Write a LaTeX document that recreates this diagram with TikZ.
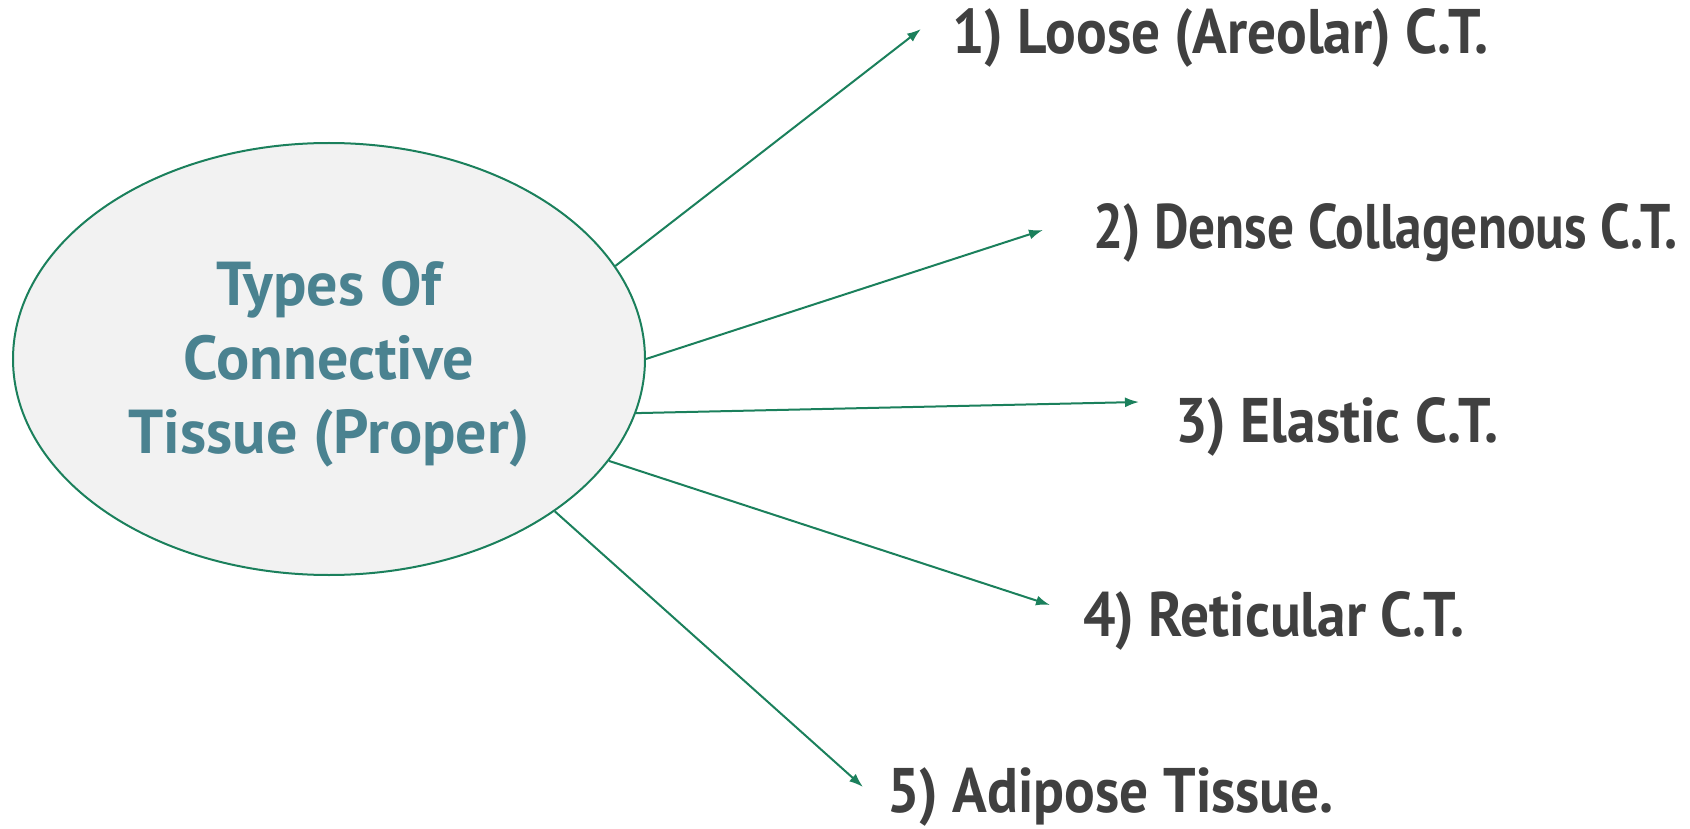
\documentclass[tikz,border=0pt]{standalone}
\usepackage{graphicx}
\usepackage{fontspec}
\setmainfont{PT Sans}
\newfontfamily\kindfont[FakeStretch=0.91]{PT Sans}
\usetikzlibrary{arrows.meta,shapes.geometric}
\definecolor{hubtext}{HTML}{4A8290}
\definecolor{kindtext}{HTML}{404040}
\definecolor{linkgreen}{HTML}{1B805C}
\definecolor{hubfill}{HTML}{F2F2F2}
\tikzset{
  kind/.style={anchor=base west, inner sep=0pt, text=kindtext,
    font=\kindfont\fontsize{63}{70}\selectfont\bfseries},
  hub/.style={ellipse, draw=linkgreen, fill=hubfill, line width=2pt,
    minimum width=632pt, minimum height=432pt, inner sep=0pt},
  hubtitle/.style={inner sep=0pt, align=center, text=hubtext,
    font=\fontsize{62}{74}\selectfont\bfseries},
  link/.style={draw=linkgreen, line width=2pt,
    -{Latex[length=14pt,width=10pt]}}
}
\begin{document}
\begin{tikzpicture}[x=1pt,y=-1pt]
      \useasboundingbox (0,0) rectangle (1690,829);
      \node[hub] (hub) at (329,359) {};
      \node[hubtitle] (title) at (329,364) {Types Of\\Connective\\Tissue (Proper)};
      \draw
        (952,54) node[kind] (loose){1) Loose (Areolar) C.T.}
        (1093,249) node[kind] (dense){\scalebox{0.93}[1]{2) Dense Collagenous C.T.}}
        (1175,442) node[kind] (elastic){3) Elastic C.T.}
        (1083,636) node[kind] (reticular){4) Reticular C.T.}
        (887,812) node[kind] (adipose){5) Adipose Tissue.};
      \coordinate (tip1) at (921,29);
      \coordinate (tip2) at (1043,230);
      \coordinate (tip3) at (1139,402);
      \coordinate (tip4) at (1050,605);
      \coordinate (tip5) at (863,787);
      \begin{scope}[link]
        \draw (hub.18.6) to (tip1);
        \draw (hub.0) to (tip2);
        \draw (hub.-10.3) to (tip3);
        \draw (hub.-20.4) to (tip4);
        \draw (hub.-34.5) to (tip5);
      \end{scope}
    \end{tikzpicture}
\end{document}
